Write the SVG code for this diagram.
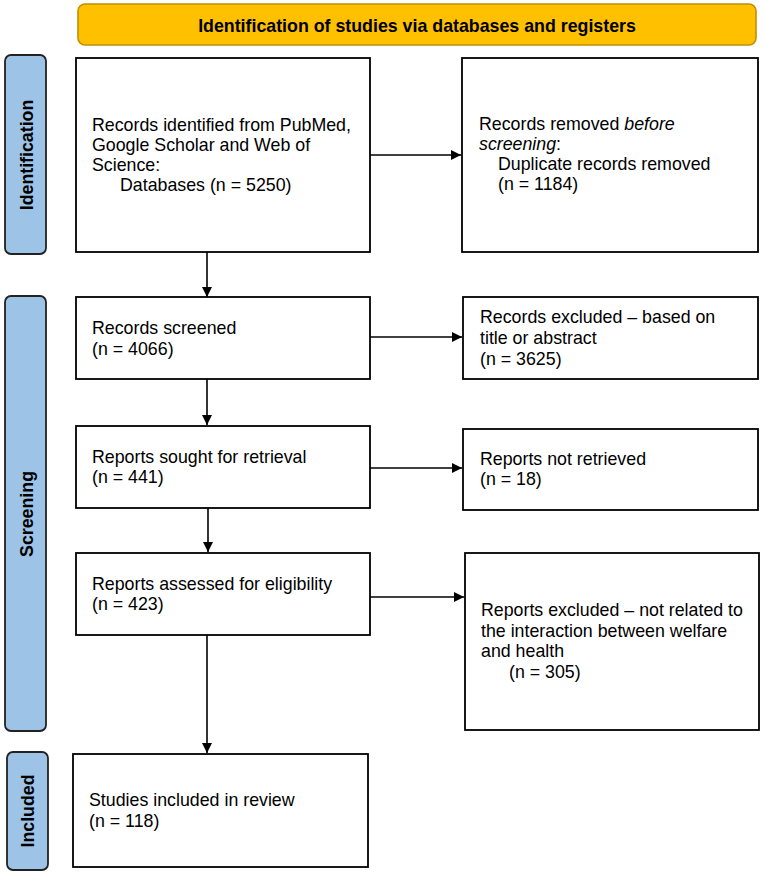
<svg xmlns="http://www.w3.org/2000/svg" width="765" height="876" viewBox="0 0 765 876">
<defs>
<style>
.box{fill:#fff;stroke:#000;stroke-width:1.8}
.side{fill:#9DC3E6;stroke:#222;stroke-width:1.8}
.t{font-family:"Liberation Sans",Arial,sans-serif;font-size:17.8px;fill:#000}
.b{font-family:"Liberation Sans",Arial,sans-serif;font-size:17.8px;font-weight:bold;fill:#000}
.c{stroke:#000;stroke-width:1.6;fill:none;marker-end:url(#ah)}
</style>
<marker id="ah" viewBox="0 0 10 10" refX="10" refY="5" markerWidth="10" markerHeight="10" markerUnits="userSpaceOnUse" orient="auto">
<path d="M0,0 L10,5 L0,10 z" fill="#000"/>
</marker>
</defs>
<rect width="765" height="876" fill="#fff"/>
<g id="banner">
<rect x="78" y="4" width="678" height="41" rx="7" fill="#FFC000" stroke="#BF9000" stroke-width="1.6"/>
<text class="b" x="417" y="32" text-anchor="middle">Identification of studies via databases and registers</text>
</g>
<g id="side-identification">
<rect class="side" x="5" y="55" width="41" height="199" rx="6"/>
<text class="b" transform="translate(33,155) rotate(-90)" text-anchor="middle">Identification</text>
</g>
<g id="side-screening">
<rect class="side" x="5" y="296" width="41" height="435" rx="6"/>
<text class="b" transform="translate(33,514) rotate(-90)" text-anchor="middle">Screening</text>
</g>
<g id="side-included">
<rect class="side" x="7" y="752" width="41" height="118" rx="6"/>
<text class="b" transform="translate(34,811) rotate(-90)" text-anchor="middle">Included</text>
</g>
<g id="n-identified">
<rect class="box" x="76" y="58" width="294" height="194"/>
<text class="t" x="92" y="131">Records identified from PubMed,</text>
<text class="t" x="92" y="151">Google Scholar and Web of</text>
<text class="t" x="92" y="171">Science:</text>
<text class="t" x="120" y="191">Databases (n = 5250)</text>
</g>
<g id="n-removed">
<rect class="box" x="462" y="58" width="296" height="194"/>
<text class="t" x="479" y="130">Records removed <tspan font-style="italic">before</tspan></text>
<text class="t" x="479" y="150"><tspan font-style="italic">screening</tspan>:</text>
<text class="t" x="498" y="170">Duplicate records removed</text>
<text class="t" x="498" y="190">(n = 1184)</text>
</g>
<g id="n-screened">
<rect class="box" x="76" y="297" width="294" height="82"/>
<text class="t" x="92" y="334">Records screened</text>
<text class="t" x="92" y="355">(n = 4066)</text>
</g>
<g id="n-excluded1">
<rect class="box" x="463" y="297" width="295" height="82"/>
<text class="t" x="480" y="323">Records excluded – based on</text>
<text class="t" x="480" y="344">title or abstract</text>
<text class="t" x="480" y="365">(n = 3625)</text>
</g>
<g id="n-sought">
<rect class="box" x="76" y="426" width="294" height="82"/>
<text class="t" x="92" y="463">Reports sought for retrieval</text>
<text class="t" x="92" y="483">(n = 441)</text>
</g>
<g id="n-notretrieved">
<rect class="box" x="463" y="429" width="295" height="81"/>
<text class="t" x="480" y="465">Reports not retrieved</text>
<text class="t" x="480" y="485">(n = 18)</text>
</g>
<g id="n-assessed">
<rect class="box" x="76" y="553" width="294" height="82"/>
<text class="t" x="92" y="590">Reports assessed for eligibility</text>
<text class="t" x="92" y="610">(n = 423)</text>
</g>
<g id="n-excluded2">
<rect class="box" x="465" y="553" width="294" height="177"/>
<text class="t" x="481" y="616">Reports excluded – not related to</text>
<text class="t" x="481" y="637">the interaction between welfare</text>
<text class="t" x="481" y="657">and health</text>
<text class="t" x="509" y="678">(n = 305)</text>
</g>
<g id="n-included">
<rect class="box" x="73" y="754" width="295" height="113"/>
<text class="t" x="89" y="806">Studies included in review</text>
<text class="t" x="89" y="827">(n = 118)</text>
</g>
<g id="connectors">
<line class="c" x1="207" y1="252" x2="207" y2="297"/>
<line class="c" x1="207" y1="379" x2="207" y2="425"/>
<line class="c" x1="208" y1="508" x2="208" y2="552"/>
<line class="c" x1="207" y1="635" x2="207" y2="753"/>
<line class="c" x1="370" y1="155" x2="461" y2="155"/>
<line class="c" x1="370" y1="337" x2="462" y2="337"/>
<line class="c" x1="370" y1="468" x2="462" y2="468"/>
<line class="c" x1="370" y1="597" x2="464" y2="597"/>
</g>
</svg>
